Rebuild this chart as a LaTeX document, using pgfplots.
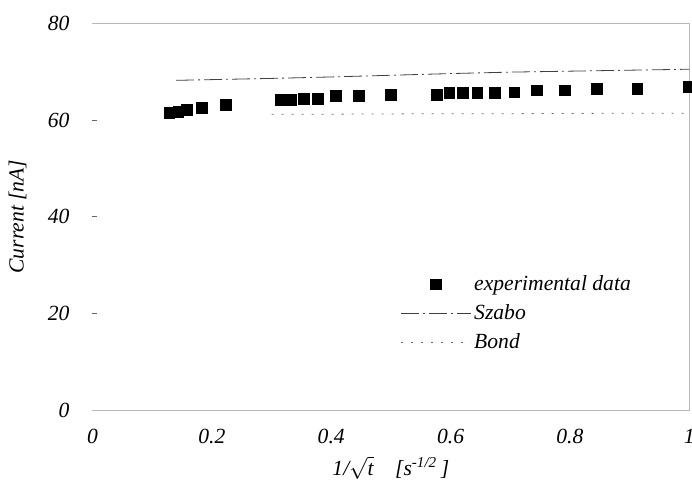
\documentclass[border=0pt]{standalone}
\usepackage{fontspec}
\setmainfont{Liberation Serif}
\usepackage{pgfplots}
\pgfplotsset{compat=1.18}
\begin{document}
\begin{tikzpicture}
\begin{axis}[
  scale only axis, width=298.4pt, height=193.35pt,
  xmin=0, xmax=1, ymin=0, ymax=80,
  axis line style={draw=none},
  xtick={0,0.2,0.4,0.6,0.8,1},
  ytick={0,20,40,60,80},
  tick pos=left,
  xtick style={draw=none},
  ytick style={black!60, thin},
  major tick length=2.5pt,
  /pgf/number format/assume math mode=true,
  tick label style={font=\fontsize{10.8}{12}\selectfont\itshape},
  yticklabel style={xshift=-8pt},
  xticklabel style={yshift=-6pt},
  xlabel={\itshape 1/$\sqrt{\mbox{\itshape t}}$\quad [s\textsuperscript{\itshape -1/2}\,]},
  xlabel style={at={(axis description cs:0.5,-0.15)}, anchor=center, font=\fontsize{10.8}{12}\selectfont},
  ylabel={\itshape Current [nA]},
  ylabel style={at={(axis description cs:-0.1257,0.5)}, anchor=center, font=\fontsize{10.8}{12}\selectfont},
  legend image code/.code={\draw[#1, mark repeat=2, mark phase=2] plot coordinates {(0pt,0pt) (17.5pt,0pt) (35pt,0pt)};},
  legend style={draw=none, fill=none, at={(0.5153,0.3566)}, anchor=north west, inner sep=0pt, row sep=2.5pt,
    font=\fontsize{10.8}{12}\selectfont\itshape, nodes={inner sep=1.5pt}},
  legend cell align=left,
  clip=false,
]
\draw[gray!55] (rel axis cs:0,1) -- (rel axis cs:1,1) -- (rel axis cs:1,0) -- (rel axis cs:0,0);
\coordinate (sw) at (rel axis cs:0,0);
\coordinate (ne) at (rel axis cs:1,1);

\addplot[only marks, mark=square*, mark size=2.7pt, black] coordinates {
(0.129,61.4) (0.144,61.7) (0.158,62.1) (0.183,62.5) (0.224,63.2)
(0.316,64.1) (0.333,64.1) (0.354,64.4) (0.378,64.4) (0.408,64.9)
(0.447,64.9) (0.500,65.2) (0.577,65.2) (0.598,65.6) (0.620,65.6)
(0.645,65.6) (0.674,65.6) (0.707,65.7) (0.745,66.1) (0.791,66.1)
(0.845,66.5) (0.913,66.5) (1.000,66.9)};
\addlegendentry{experimental data}

\addplot[black!75, thin, dash pattern=on 9pt off 2pt on 1pt off 2pt] coordinates {
(0.14,68.2) (0.2,68.35) (0.3,68.6) (0.4,68.9) (0.5,69.25) (0.6,69.6)
(0.7,69.9) (0.8,70.1) (0.9,70.3) (1.0,70.5)};
\addlegendentry{Szabo}

\addplot[black!60, thin, dash pattern=on 1pt off 4pt] coordinates {
(0.30,61.2) (0.4,61.2) (0.5,61.25) (0.6,61.3) (0.7,61.3) (0.8,61.35) (0.9,61.4) (1.0,61.4)};
\addlegendentry{Bond}
\end{axis}
\path (sw) ++(-46.25pt,-38.5pt) coordinate (bba);
\path (ne) ++(1.35pt,11.65pt) coordinate (bbb);
\pgfresetboundingbox
\path (bba) rectangle (bbb);
\end{tikzpicture}
\end{document}
